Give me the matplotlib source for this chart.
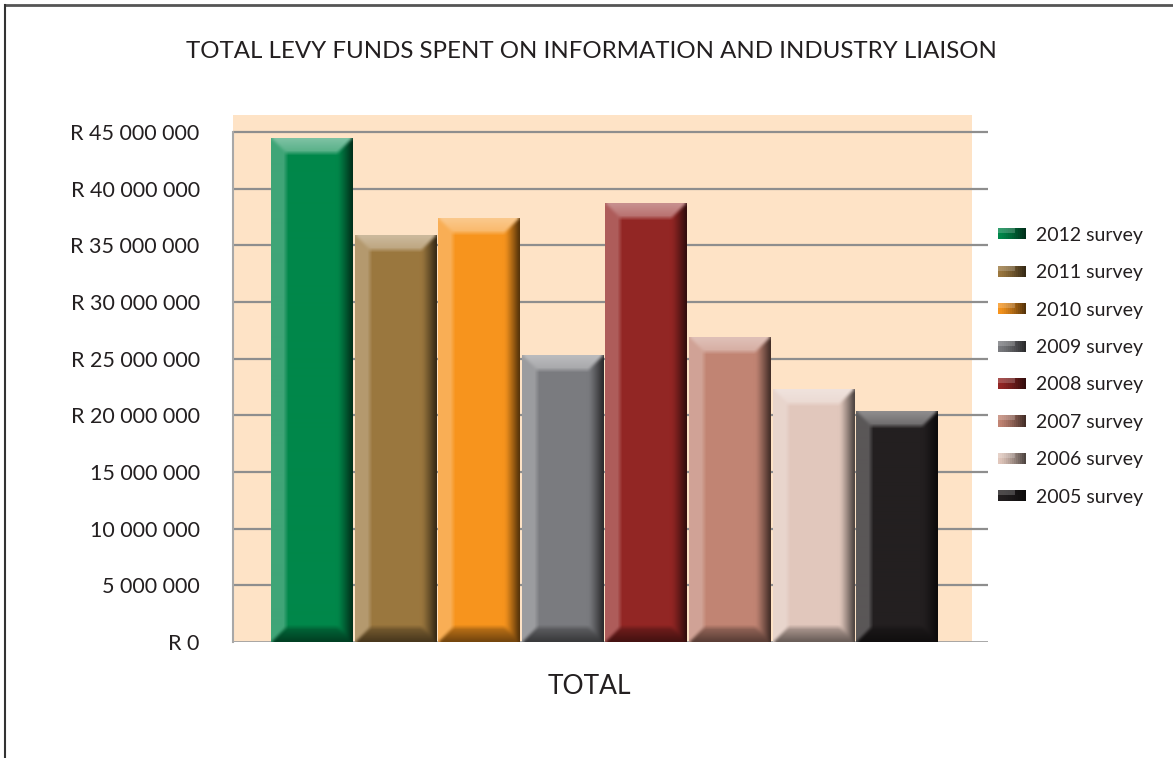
import numpy as np
import matplotlib
matplotlib.use("Agg")
import matplotlib.pyplot as plt
from matplotlib.patches import Rectangle
from matplotlib.legend_handler import HandlerBase
from matplotlib.colors import to_rgb

# ---------------- data ----------------
title = "TOTAL LEVY FUNDS SPENT ON INFORMATION AND INDUSTRY LIAISON"
category = "TOTAL"
series = ["2012 survey", "2011 survey", "2010 survey", "2009 survey",
          "2008 survey", "2007 survey", "2006 survey", "2005 survey"]
values = [44_400_000, 35_900_000, 37_400_000, 25_300_000,
          38_700_000, 26_900_000, 22_300_000, 20_300_000]
colors = ["#00874A", "#9B773E", "#F7941D", "#7A7B7F",
          "#932624", "#C18473", "#E1C7BC", "#231F20"]
ytick_values = [0, 5_000_000, 10_000_000, 15_000_000, 20_000_000,
                25_000_000, 30_000_000, 35_000_000, 40_000_000, 45_000_000]
ytick_labels = ["R 0", "5 000 000", "10 000 000", "15 000 000", "R 20 000 000",
                "R 25 000 000", "R 30 000 000", "R 35 000 000", "R 40 000 000",
                "R 45 000 000"]

# ---------------- style ----------------
W, H = 1173, 758
DPI = 100
TXT = "#231F20"
PEACH = "#FEE3C6"
plt.rcParams["font.family"] = ["Lato", "DejaVu Sans"]

fig = plt.figure(figsize=(W / DPI, H / DPI), dpi=DPI)

def fx(px):
    return px / W

def fy(py):
    return 1 - py / H

# figure frame lines (top and left)
fig.add_artist(plt.Line2D([fx(5), 1], [fy(4.5), fy(4.5)], color="#555555", lw=2.0))
fig.add_artist(plt.Line2D([fx(5), fx(5)], [fy(4.5), 0], color="#333333", lw=1.5))

ax_l, ax_r, ax_t, ax_b = 233, 988, 115, 642
ax = fig.add_axes([fx(ax_l), fy(ax_b), fx(ax_r - ax_l), (ax_b - ax_t) / H])
ax.set_facecolor("none")

ymax = 45_000_000 + (132 - ax_t) / ((ax_b - 132) / 45_000_000)
ax.set_ylim(0, ymax)
pitch = 83.6
start = (270 - ax_l) / pitch
n = len(values)
x = np.arange(n)
xlim = (-0.5 - start, -0.5 - start + (ax_r - ax_l) / pitch)
ax.set_xlim(*xlim)

# peach plot-area background (stops before gridline ends)
ax.add_patch(Rectangle((0, 0), (972 - ax_l) / (ax_r - ax_l), 1, transform=ax.transAxes,
                       facecolor=PEACH, edgecolor="none", zorder=0))

# gridlines
for v in ytick_values[1:]:
    ax.axhline(v, color="#8E8E8E", lw=1.6, zorder=1)
ax.axhline(0, color="#A0A0A0", lw=2.0, zorder=1)
ax.plot([xlim[0], xlim[0]], [0, 45_000_000], color="#A8A8A8", lw=1.5, zorder=1,
        clip_on=False)

for s in ax.spines.values():
    s.set_visible(False)

bars = ax.bar(x, values, width=0.975, color=colors, zorder=2, edgecolor="none")

# bevel shading for each bar
fig.canvas.draw()

def blur(img, r=2):
    k = np.ones(2 * r + 1) / (2 * r + 1)
    out = img.copy()
    for ch in range(3):
        a = np.pad(out[:, :, ch], r, mode="edge")
        a = np.apply_along_axis(lambda v: np.convolve(v, k, mode="valid"), 1, a)
        a = np.apply_along_axis(lambda v: np.convolve(v, k, mode="valid"), 0, a)
        out[:, :, ch] = a
    return out

def shade(color, wpx, hpx, b=15):
    c = np.array(to_rgb(color))
    j = np.arange(wpx)[None, :].astype(float)
    i = np.arange(hpx)[:, None].astype(float)
    dl = j + 0.5 + 0 * i
    dr = wpx - j - 0.5 + 0 * i
    dt = i + 0.5 + 0 * j
    db = hpx - i - 0.5 + 0 * j
    img = np.ones((hpx, wpx, 3)) * c
    d = np.stack([dl, dr, dt, db])
    which = np.argmin(d, axis=0)
    dmin = np.min(d, axis=0)
    inb = dmin < b
    t = np.clip(1 - dmin / b, 0, 1)
    white = np.ones(3)
    m = inb & (which == 0)
    img[m] = c * 0.75 + white * 0.25
    m = inb & (which == 1)
    f = (1 - 0.7 * t[m] ** 1.1)[:, None]
    img[m] = c * f
    m = inb & (which == 2)
    a = (0.33 + 0.17 * t[m])[:, None]
    img[m] = c * (1 - a) + white * a
    m = inb & (which == 3)
    f = (1 - 0.55 * (0.4 + 0.6 * t[m]))[:, None]
    img[m] = c * f
    img = blur(img, 2)
    return np.clip(img, 0, 1)

for bar, col in zip(bars, colors):
    x0, y0 = bar.get_x(), bar.get_y()
    x1, y1 = x0 + bar.get_width(), y0 + bar.get_height()
    p0 = ax.transData.transform((x0, y0))
    p1 = ax.transData.transform((x1, y1))
    wpx = max(int(round(p1[0] - p0[0])), 2)
    hpx = max(int(round(p1[1] - p0[1])), 2)
    ax.imshow(shade(col, wpx, hpx), extent=(x0, x1, y0, y1), aspect="auto",
              interpolation="bilinear", zorder=2.5)
ax.set_xlim(*xlim)
ax.set_ylim(0, ymax)

ax.set_yticks(ytick_values)
ax.set_yticklabels(ytick_labels, fontsize=15.5, color=TXT)
ax.tick_params(axis="y", length=0, pad=24)
ax.set_xticks([])

# legend with shaded swatches
class GradHandler(HandlerBase):
    def __init__(self, color):
        super().__init__()
        self.color = color
    def create_artists(self, legend, orig_handle, xdescent, ydescent, width,
                       height, fontsize, trans):
        c = np.array(to_rgb(self.color))
        arts = []
        k = 14
        for q in range(k):
            f = 1 - 0.65 * (q / (k - 1)) ** 1.3
            arts.append(Rectangle((-xdescent + width * q / k, -ydescent), width / k + 0.3,
                                  height, facecolor=np.clip(c * f, 0, 1),
                                  edgecolor="none", transform=trans))
        arts.append(Rectangle((-xdescent, -ydescent + height * 0.55), width * 0.6,
                              height * 0.45, facecolor="white", alpha=0.2,
                              edgecolor="none", transform=trans))
        return arts

handles = [Rectangle((0, 0), 1, 1, facecolor=c) for c in colors]
leg = fig.legend(handles, series, loc="upper left",
                 bbox_to_anchor=(fx(990), fy(219)), frameon=False,
                 fontsize=14, labelcolor=TXT, handlelength=1.45, handleheight=0.5,
                 handletextpad=0.5, labelspacing=1.05, borderaxespad=0,
                 handler_map={h: GradHandler(c) for h, c in zip(handles, colors)})

fig.text(fx(591), fy(51), title, ha="center", va="center", fontsize=17.3, color=TXT)
fig.text(fx(589), fy(686), category, ha="center", va="center", fontsize=19, color=TXT)

fig.savefig("out.png", dpi=DPI, facecolor="white")
